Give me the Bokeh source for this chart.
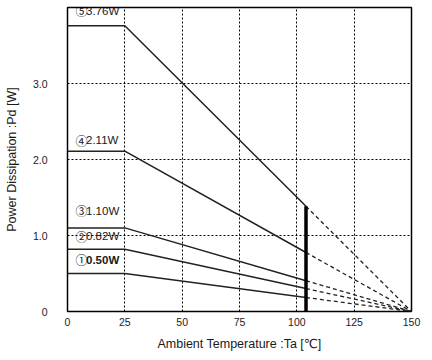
from bokeh.plotting import figure
from bokeh.models import Range1d, FixedTicker
from bokeh.core.properties import value
from bokeh.embed import file_html
from bokeh.resources import INLINE

# ---- data ----
power_w = [3.76, 2.11, 1.10, 0.82, 0.50]
curve_marks = ["⑤", "④", "③", "②", "①"]
curve_values = ["3.76W", "2.11W", "1.10W", "0.82W", "0.50W"]
ta_start = 0
ta_knee = 25
ta_limit = 104
ta_zero = 150
x_ticks = [0, 25, 50, 75, 100, 125, 150]
y_ticks = [0, 1, 2, 3]
y_tick_labels = {0: "0", 1: "1.0", 2: "2.0", 3: "3.0"}
x_title = "Ambient Temperature :Ta [℃]"
y_title = "Power Dissipation :Pd [W]"

# ---- styles ----
label_dy = [-15, -11, -17, -13, -14]
label_weight = ["normal", "normal", "normal", "normal", "bold"]
FONT = "Liberation Sans, Arial, DejaVu Sans"
CJK = "Noto Sans CJK JP"

p = figure(width=432, height=360, output_backend="svg",
           toolbar_location=None,
           x_range=Range1d(0, 150), y_range=Range1d(0, 4),
           min_border_left=67, min_border_right=21, min_border_top=7,
           min_border_bottom=49)
p.background_fill_color = "white"
p.border_fill_color = "white"
p.outline_line_color = "black"
p.outline_line_width = 1.5

def frac(t):
    return (ta_zero - t) / (ta_zero - ta_knee)

for P in power_w:
    p.line([ta_start, ta_knee, ta_limit], [P, P, P * frac(ta_limit)],
           line_color="#222222", line_width=1.5)
    p.line([ta_limit, ta_zero], [P * frac(ta_limit), 0],
           line_color="#222222", line_width=1.3, line_dash="4 3")

# thick limit line
p.line([ta_limit, ta_limit], [0, max(power_w) * frac(ta_limit)],
       line_color="black", line_width=3.5)

for P, mk, val, dy, w in zip(power_w, curve_marks, curve_values, label_dy, label_weight):
    p.text(x=[ta_start], y=[P], text=[mk], text_font=value(CJK),
           text_font_size="12px", text_baseline="middle", text_align="left",
           x_offset=8, y_offset=dy, text_color="#1a1a1a")
    p.text(x=[ta_start], y=[P], text=[val], text_font=value(FONT),
           text_font_size="11.5px", text_baseline="middle", text_align="left",
           x_offset=18.5, y_offset=dy, text_color="#1a1a1a", text_font_style=w)

# axes
p.xaxis.ticker = FixedTicker(ticks=x_ticks)
p.yaxis.ticker = FixedTicker(ticks=y_ticks)
p.yaxis.major_label_overrides = y_tick_labels
for ax in (p.xaxis[0], p.yaxis[0]):
    ax.axis_line_color = None
    ax.major_tick_line_color = None
    ax.minor_tick_line_color = None
    ax.major_tick_out = 0
    ax.major_tick_in = 0
    ax.minor_tick_out = 0
    ax.minor_tick_in = 0
    ax.major_label_text_font = FONT
    ax.major_label_text_font_size = "10.5px"
    ax.major_label_text_color = "#1a1a2a"
    ax.axis_label_text_font = FONT
    ax.axis_label_text_font_size = "12.5px"
    ax.axis_label_text_font_style = "normal"
    ax.axis_label_text_color = "#1a1a1a"

p.xaxis.axis_label = x_title
p.yaxis.axis_label = y_title
p.xaxis.major_label_standoff = 6
p.xaxis.axis_label_standoff = 8
p.yaxis.major_label_standoff = 20
p.yaxis.axis_label_standoff = 11

p.xgrid.grid_line_color = "black"
p.xgrid.grid_line_dash = "2 2"
p.xgrid.grid_line_width = 1
p.ygrid.grid_line_color = "black"
p.ygrid.grid_line_dash = "2 2"
p.ygrid.grid_line_width = 1

open("out.html", "w").write(file_html(p, INLINE))
